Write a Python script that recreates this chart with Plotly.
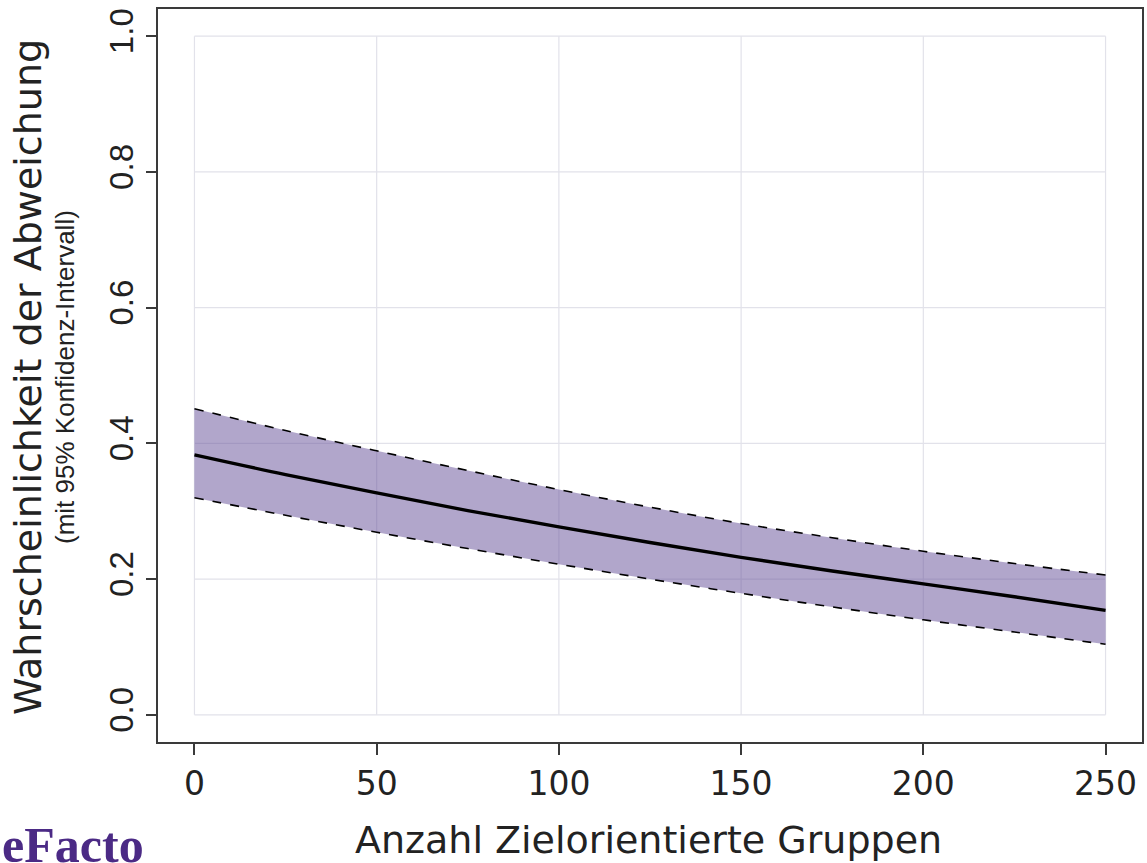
import plotly.graph_objects as go

# Data
groups = [0, 25, 50, 75, 100, 125, 150, 175, 200, 225, 250]
mean_prob = [0.383, 0.354, 0.327, 0.301, 0.277, 0.254, 0.232, 0.212, 0.193, 0.174, 0.154]
upper_ci = [0.451, 0.419, 0.389, 0.360, 0.332, 0.306, 0.282, 0.261, 0.241, 0.223, 0.206]
lower_ci = [0.320, 0.294, 0.269, 0.245, 0.222, 0.200, 0.179, 0.159, 0.140, 0.122, 0.104]

x_ticks = [0, 50, 100, 150, 200, 250]
x_tick_labels = ["0", "50", "100", "150", "200", "250"]
y_ticks = [0.0, 0.2, 0.4, 0.6, 0.8, 1.0]
y_tick_labels = ["0.0", "0.2", "0.4", "0.6", "0.8", "1.0"]

x_title = "Anzahl Zielorientierte Gruppen"
y_title = "Wahrscheinlichkeit der Abweichung"
y_subtitle = "(mit 95% Konfidenz-Intervall)"
logo_text = "DeFacto"

FRAME = "#3a3a3a"
GRID = "#e2e2ea"
BAND = "rgba(100,78,152,0.50)"

fig = go.Figure()

fig.add_trace(go.Scatter(x=groups, y=lower_ci, mode="lines", line=dict(width=0, shape="spline"),
                         hoverinfo="skip", showlegend=False))
fig.add_trace(go.Scatter(x=groups, y=upper_ci, mode="lines", line=dict(width=0, shape="spline"),
                         fill="tonexty", fillcolor=BAND, hoverinfo="skip", showlegend=False))
fig.add_trace(go.Scatter(x=groups, y=upper_ci, mode="lines",
                         line=dict(color="black", width=1.6, dash="dash", shape="spline"), showlegend=False))
fig.add_trace(go.Scatter(x=groups, y=lower_ci, mode="lines",
                         line=dict(color="black", width=1.6, dash="dash", shape="spline"), showlegend=False))
fig.add_trace(go.Scatter(x=groups, y=mean_prob, mode="lines",
                         line=dict(color="black", width=3.4, shape="spline"), showlegend=False))

# grid limited to the data range (like base R grid)
shapes = []
for xv in x_ticks:
    shapes.append(dict(type="line", xref="x", yref="y", x0=xv, x1=xv, y0=y_ticks[0], y1=y_ticks[-1],
                       line=dict(color=GRID, width=1.2), layer="below"))
for yv in y_ticks:
    shapes.append(dict(type="line", xref="x", yref="y", x0=x_ticks[0], x1=x_ticks[-1], y0=yv, y1=yv,
                       line=dict(color=GRID, width=1.2), layer="below"))

annotations = [
    dict(text=y_title, xref="paper", yref="paper", x=-0.132, y=0.498, xanchor="center", yanchor="middle",
         textangle=-90, showarrow=False, font=dict(family="DejaVu Sans", size=38, color="#222222")),
    dict(text=y_subtitle, xref="paper", yref="paper", x=-0.0945, y=0.498, xanchor="center", yanchor="middle",
         textangle=-90, showarrow=False, font=dict(family="Liberation Sans", size=26, color="#222222")),
    dict(text=x_title, xref="paper", yref="paper", x=0.4985, y=-0.134, xanchor="center", yanchor="middle",
         showarrow=False, font=dict(family="DejaVu Sans", size=38, color="#222222")),
    dict(text=logo_text, xref="paper", yref="paper", x=-0.197, y=-0.181, xanchor="left", yanchor="bottom",
         showarrow=False, font=dict(family="Liberation Serif", size=50, color="#4b2a85", weight="bold")),
]

fig.update_layout(
    width=1147, height=863,
    margin=dict(l=158, r=5, t=9, b=121, autoexpand=False),
    plot_bgcolor="white", paper_bgcolor="white",
    shapes=shapes, annotations=annotations,
    xaxis=dict(range=[-10, 260], tickvals=x_ticks, ticktext=x_tick_labels, showgrid=False, zeroline=False,
               showline=True, mirror=True, linecolor=FRAME, linewidth=2, automargin=False,
               ticks="outside", ticklen=11, tickwidth=1.5, tickcolor=FRAME,
               tickfont=dict(family="DejaVu Sans", size=33, color="#222222")),
    yaxis=dict(range=[-0.04, 1.04], tickvals=y_ticks, ticktext=y_tick_labels, showgrid=False, zeroline=False,
               showline=True, mirror=True, linecolor=FRAME, linewidth=2, automargin=False,
               ticks="outside", ticklen=10, tickwidth=1.5, tickcolor=FRAME, tickangle=-90,
               tickfont=dict(family="Liberation Sans", size=33, color="#222222")),
)

fig.write_html("out.html", config={"displayModeBar": False},
               post_script="document.body.style.margin='0px';")
